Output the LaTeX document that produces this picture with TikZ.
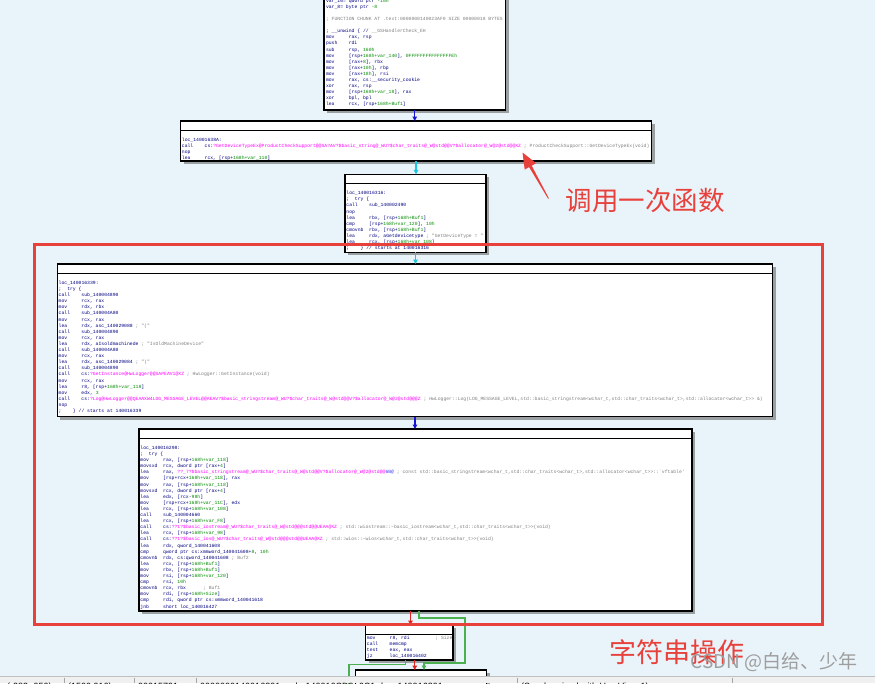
\documentclass[tikz,border=0pt]{standalone}
\usepackage{fontspec}
\setmonofont{Liberation Mono}
\newfontfamily\cjkfont{Noto Sans CJK SC}
\newfontfamily\barfont{Liberation Sans}
\usetikzlibrary{arrows.meta, positioning, shadows}

\definecolor{idabg}{HTML}{E9F4FA}
\definecolor{idanavy}{HTML}{000080}
\definecolor{idagreen}{HTML}{008A00}
\definecolor{idamag}{HTML}{FF00FF}
\definecolor{idablue}{HTML}{3D3DFF}
\definecolor{idagray}{HTML}{808080}
\definecolor{edgeblue}{HTML}{1515D5}
\definecolor{edgecyan}{HTML}{1CC6E0}
\definecolor{edgered}{HTML}{E42222}
\definecolor{edgegreen}{HTML}{4CAF50}
\definecolor{markred}{HTML}{E8413C}
\definecolor{barbg}{HTML}{F0F0F0}

\newlength\cw
\setlength\cw{2.85pt}
\newcommand\gnum[1]{\textcolor{idagreen}{#1}}
\newcommand\mang[1]{\textcolor{idamag}{#1}}
\newcommand\idacmt[1]{\textcolor{idagray}{#1}}
\newcommand\mnem[2]{\makebox[8\cw][l]{#1}#2}
\newcommand\padc[1]{\hspace*{#1\cw}}
\newcommand\stk[1]{[rsp+\gnum{168h+#1}]}

\begin{document}
\begin{tikzpicture}[x=1pt, y=-1pt,
  blk/.style={draw=black, line width=1.1pt, fill=white, rectangle, inner sep=0pt, outer sep=0pt, anchor=north west,
    drop shadow={shadow xshift=3pt, shadow yshift=-3pt, fill=black!70, opacity=.5}},
  code/.style={anchor=north west, inner sep=0pt, align=left, text=idanavy, font=\ttfamily\fontsize{4.75}{6.1}\selectfont},
  flow/.style={line width=1.3pt, -{Triangle[length=4.5pt, width=4.5pt]}},
  notemark/.style={text=markred, font=\cjkfont\fontsize{26.5}{30}\selectfont, inner sep=0pt},
  statustext/.style={anchor=base west, font=\barfont\fontsize{9}{10}\selectfont, inner sep=0pt}]
\useasboundingbox (0,0) rectangle (875,683);
\clip (0,0) rectangle (875,683);
\fill[idabg] (0,0) rectangle (875,683);

\node[blk, minimum width=181.5pt, minimum height=128.2pt] (b1) at (324,-18.2) {};
\node[blk, minimum width=471pt, minimum height=40pt] (b2) at (180.5,121) {};
\node[blk, minimum width=141pt, minimum height=78pt] (b3) at (345,174.3) {};
\node[blk, minimum width=715.4pt, minimum height=152.7pt] (b4) at (57.3,264) {};
\node[blk, minimum width=553pt, minimum height=182pt] (b5) at (139,429) {};
\node[blk, minimum width=87.5pt, minimum height=35pt] (b6) at (365.5,625) {};
\node[blk, minimum width=131pt, minimum height=40pt] (b7) at (355.5,670) {};
\foreach \b in {b2,b3,b4,b5,b6,b7}
  \draw[line width=.7pt] ([yshift=-9pt]\b.north west) -- ([yshift=-9pt]\b.north east);

\node[code] (t1) at ([xshift=1.8pt, yshift=-16pt]b1.north west) {\strut var\_10= qword ptr \gnum{-10h}\\
var\_8= byte ptr \gnum{-8}\\
\mbox{}\\
\idacmt{; FUNCTION CHUNK AT .text:0000000140023AF0 SIZE 00000018 BYTES}\\
\mbox{}\\
; \_\_unwind \{ // \idacmt{\_\_GSHandlerCheck\_EH}\\
\mnem{mov}{rax, rsp}\\
\mnem{push}{rdi}\\
\mnem{sub}{rsp, \gnum{160h}}\\
\mnem{mov}{\stk{var\_140}, \gnum{0FFFFFFFFFFFFFFFEh}}\\
\mnem{mov}{[rax+\gnum{8}], rbx}\\
\mnem{mov}{[rax+\gnum{10h}], rbp}\\
\mnem{mov}{[rax+\gnum{18h}], rsi}\\
\mnem{mov}{rax, cs:\_\_security\_cookie}\\
\mnem{xor}{rax, rsp}\\
\mnem{mov}{\stk{var\_18}, rax}\\
\mnem{xor}{bpl, bpl}\\
\mnem{lea}{rcx, \stk{Buf1}}};

\node[code] (t2) at ([xshift=1.2pt, yshift=-16pt]b2.north west) {\strut loc\_14001638A:\\
\mnem{call}{cs:\mang{?GetDeviceTypeEx@ProductCheckSupport@@SA?AV?\$basic\_string@\_WU?\$char\_traits@\_W@std@@V?\$allocator@\_W@2@std@@XZ} \idacmt{; ProductCheckSupport::GetDeviceTypeEx(void)}}\\
nop\\
\mnem{lea}{rcx, \stk{var\_110}}};

\node[code] (t3) at ([xshift=1.2pt, yshift=-16pt]b3.north west) {\strut loc\_140016316:\\
;\padc{2}try \{\\
\mnem{call}{sub\_140002490}\\
nop\\
\mnem{lea}{rbx, \stk{Buf1}}\\
\mnem{cmp}{\stk{var\_120}, \gnum{10h}}\\
\mnem{cmovnb}{rbx, \stk{Buf1}}\\
\mnem{lea}{rdx, aGetdevicetype \idacmt{; "GetDeviceType = "}}\\
\mnem{lea}{rcx, \stk{var\_108}}\\
;\padc{4}\} // starts at 140016316};

\node[code] (t4) at ([xshift=1.2pt, yshift=-16pt]b4.north west) {\strut loc\_140016339:\\
;\padc{2}try \{\\
\mnem{call}{sub\_140004890}\\
\mnem{mov}{rcx, rax}\\
\mnem{mov}{rdx, rbx}\\
\mnem{call}{sub\_140004A80}\\
\mnem{mov}{rcx, rax}\\
\mnem{lea}{rdx, asc\_140029088 \idacmt{; "("}}\\
\mnem{call}{sub\_140004890}\\
\mnem{mov}{rcx, rax}\\
\mnem{lea}{rdx, aIsoldmachinede \idacmt{; "IsOldMachineDevice"}}\\
\mnem{call}{sub\_140004A80}\\
\mnem{mov}{rcx, rax}\\
\mnem{lea}{rdx, asc\_140029084 \idacmt{; ")"}}\\
\mnem{call}{sub\_140004890}\\
\mnem{call}{cs:\mang{?GetInstance@HwLogger@@SAPEAV1@XZ} \idacmt{; HwLogger::GetInstance(void)}}\\
\mnem{mov}{rcx, rax}\\
\mnem{lea}{r8, \stk{var\_118}}\\
\mnem{mov}{edx, \gnum{3}}\\
\mnem{call}{cs:\mang{?Log@HwLogger@@QEAAXW4LOG\_MESSAGE\_LEVEL@@AEAV?\$basic\_stringstream@\_WU?\$char\_traits@\_W@std@@V?\$allocator@\_W@2@std@@@Z} \idacmt{; HwLogger::Log(LOG\_MESSAGE\_LEVEL,std::basic\_stringstream<wchar\_t,std::char\_traits<wchar\_t>,std::allocator<wchar\_t>> \&)}}\\
nop\\
;\padc{4}\} // starts at 140016339};

\node[code] (t5) at ([xshift=1.2pt, yshift=-16pt]b5.north west) {\strut loc\_140016298:\\
;\padc{2}try \{\\
\mnem{mov}{rax, \stk{var\_118}}\\
\mnem{movsxd}{rcx, dword ptr [rax+\gnum{4}]}\\
\mnem{lea}{rax, \mang{??\_7?\$basic\_stringstream@\_WU?\$char\_traits@\_W@std@@V?\$allocator@\_W@2@std@@}\textcolor{idablue}{6B@} \idacmt{; const std::basic\_stringstream<wchar\_t,std::char\_traits<wchar\_t>,std::allocator<wchar\_t>>::\textasciigrave vftable'}}\\
\mnem{mov}{[rsp+rcx+\gnum{168h+var\_118}], rax}\\
\mnem{mov}{rax, \stk{var\_118}}\\
\mnem{movsxd}{rcx, dword ptr [rax+\gnum{4}]}\\
\mnem{lea}{edx, [rcx-\gnum{98h}]}\\
\mnem{mov}{[rsp+rcx+\gnum{168h+var\_11C}], edx}\\
\mnem{lea}{rcx, \stk{var\_108}}\\
\mnem{call}{sub\_140004660}\\
\mnem{lea}{rcx, \stk{var\_F8}}\\
\mnem{call}{cs:\mang{??1?\$basic\_iostream@\_WU?\$char\_traits@\_W@std@@@std@@UEAA@XZ} \idacmt{; std::wiostream::\textasciitilde basic\_iostream<wchar\_t,std::char\_traits<wchar\_t>>(void)}}\\
\mnem{lea}{rcx, \stk{var\_98}}\\
\mnem{call}{cs:\mang{??1?\$basic\_ios@\_WU?\$char\_traits@\_W@std@@@std@@UEAA@XZ} \idacmt{; std::wios::\textasciitilde wios<wchar\_t,std::char\_traits<wchar\_t>>(void)}}\\
\mnem{lea}{rdx, qword\_140041608}\\
\mnem{cmp}{qword ptr cs:xmmword\_140041608+\gnum{8}, \gnum{10h}}\\
\mnem{cmovnb}{rdx, cs:qword\_140041608 \idacmt{; Buf2}}\\
\mnem{lea}{rcx, \stk{Buf1}}\\
\mnem{mov}{rbx, \stk{Buf1}}\\
\mnem{mov}{rsi, \stk{var\_120}}\\
\mnem{cmp}{rsi, \gnum{10h}}\\
\mnem{cmovnb}{rcx, rbx\padc{6}\idacmt{; Buf1}}\\
\mnem{mov}{rdi, \stk{Size}}\\
\mnem{cmp}{rdi, qword ptr cs:xmmword\_140041618}\\
\mnem{jnb}{short loc\_140016427}};

\node[code] (t6) at ([xshift=1.2pt, yshift=-9.6pt]b6.north west) {\strut \mnem{mov}{r8, rdi\padc{9}\idacmt{; Size}}\\
\mnem{call}{memcmp}\\
\mnem{test}{eax, eax}\\
\mnem{jz}{loc\_140016402}};

\draw[flow, edgeblue] (b1.south) -- (b1.south |- b2.north);
\draw[flow, edgecyan] (b2.south) -- (b2.south |- b3.north);
\draw[flow, edgecyan] (b3.south) -- (b3.south |- b4.north);
\draw[flow, edgeblue] (b4.south) -- (b4.south |- b5.north);
\draw[flow, edgered] ([xshift=-5pt]b5.south) -- ([xshift=-5pt]b5.south |- b6.north);
\draw[flow, edgegreen] ([xshift=3.5pt]b5.south) -- ++(0,7) -- ++(46,0) -- ++(0,45) -| ([xshift=3pt]b7.north);
\draw[flow, edgered] ([xshift=5.5pt]b6.south) -- ([xshift=5.5pt]b6.south |- b7.north);
\coordinate (offleft) at (349,690);
\draw[line width=1.3pt, edgegreen] ([xshift=-4pt]b6.south) -- ++(0,4.5) -| (offleft);

\draw[markred, line width=3pt] (34.6,244.3) rectangle (822.5,624);
\fill[markred] (522.5,152.5) -- (536.1,163.2) -- (531.7,165.7) -- (548.9,198.3) -- (548.1,198.7) -- (529.1,167.1) -- (524.7,169.6) -- cycle;
\node[notemark] (callonce) at (645,200.5) {调用一次函数};
\node[notemark, font=\cjkfont\fontsize{27}{30}\selectfont] (strop) at (676.5,652) {字符串操作};
\node[text=black!38, font=\cjkfont\fontsize{19}{22}\selectfont, inner sep=0pt] (wmark) at (774,662) {CSDN @白给、少年};

\fill[barbg] (0,676.5) rectangle (875,683);
\draw[black!25] (0,676.5) -- (875,676.5);
\foreach \s in {64,134,196,517,732}
  \draw[black!35] (\s,677.5) -- (\s,683);
\node[statustext] (stat1) at (7,689) {(-283,-950)};
\node[statustext] (stat2) at (68,689) {(1500,916)};
\node[statustext] (stat3) at (138,689) {00015791};
\node[statustext] (stat4) at (200,689) {0000000140016391: sub\_140016CD0+6C1: loc\_140016391};
\node[statustext] (stat5) at (521,689) {(Synchronized with Hex View-1)};
\end{tikzpicture}
\end{document}
